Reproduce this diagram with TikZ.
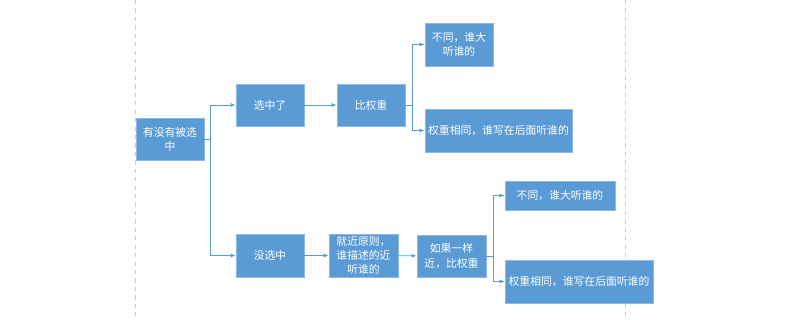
\documentclass[tikz,border=0pt]{standalone}
\usepackage{fontspec}
\usepackage{tikz}
\usetikzlibrary{arrows.meta}
\newfontfamily\cjk{Noto Sans CJK SC}
\definecolor{boxblue}{HTML}{5B9BD5}
\definecolor{edgeblue}{HTML}{8DB8E4}
\definecolor{guide}{HTML}{CCCCCC}

\tikzset{
  stepbox/.style={fill=boxblue,draw=edgeblue,line width=0.6pt,text=white,align=center,
    inner sep=1pt,minimum height=42*0.025cm,font=\cjk\fontsize{7.7}{10}\selectfont},
  link/.style={draw=boxblue,line width=0.6pt,-{Latex[length=3.5pt,width=3pt]}},
  guideline/.style={draw=guide,dashed,line width=0.5pt}
}

\begin{document}
\begin{tikzpicture}[x=0.025cm,y=-0.025cm]
\useasboundingbox (0,0) rectangle (800,320);
% guide lines
\draw[guideline] (135,0) -- (135,320);
\draw[guideline] (625,0) -- (625,320);

% boxes
\node[stepbox,minimum width=68*0.025cm] (root) at (170,139) {有没有被选\\中};
\node[stepbox,minimum width=68*0.025cm] (chosen) at (270,105) {选中了};
\node[stepbox,minimum width=68*0.025cm] (weight) at (371,105) {比权重};
\node[stepbox,minimum width=68*0.025cm,minimum height=43*0.025cm] (bigger) at (459,44.5) {不同，谁大\\听谁的};
\node[stepbox,minimum width=147*0.025cm,minimum height=43*0.025cm] (later) at (498.5,130.5) {权重相同，谁写在后面听谁的};
\node[stepbox,minimum width=68*0.025cm,minimum height=43*0.025cm] (notchosen) at (270,255.5) {没选中};
\node[stepbox,minimum width=69*0.025cm,minimum height=43*0.025cm] (near) at (363.5,255.5) {就近原则，\\谁描述的近\\听谁的};
\node[stepbox,minimum width=69*0.025cm] (same) at (451.5,256) {如果一样\\近，比权重};
\node[stepbox,minimum width=110*0.025cm,minimum height=29*0.025cm] (bigger2) at (560,195.5) {不同，谁大听谁的};
\node[stepbox,minimum width=148*0.025cm,minimum height=43*0.025cm] (later2) at (579,281.5) {权重相同，谁写在后面听谁的};

% branch points
\coordinate (j1) at (210,139);
\coordinate (j2) at (412,105);
\coordinate (j3) at (493,256);

% connectors
\draw[link] (root.east) -- (j1) |- (chosen.west);
\draw[link] (j1) |- (notchosen.west);
\draw[link] (chosen) -- (weight);
\draw[link] (weight.east) -- (j2) |- (bigger.west);
\draw[link] (j2) |- (later.west);
\draw[link] (notchosen) -- (near);
\draw[link] (near) -- (same);
\draw[link] (same.east) -- (j3) |- (bigger2.west);
\draw[link] (j3) |- (later2.west);
\end{tikzpicture}
\end{document}
